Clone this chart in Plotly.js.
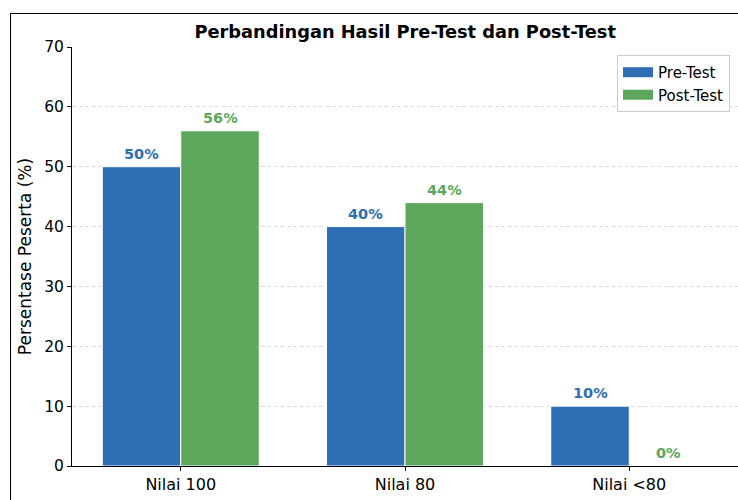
<!DOCTYPE html>
<html>
<head>
<meta charset="utf-8">
<script src="https://cdn.plot.ly/plotly-3.0.1.min.js"></script>
<style>
html,body{margin:0;padding:0;background:#fff;}
#wrap{position:relative;width:738px;height:500px;overflow:hidden;}
#chart{position:absolute;left:0;top:0;width:738px;height:500px;}
#frame{position:absolute;left:10px;top:13px;width:800px;height:600px;border-left:1px solid #000;border-top:1px solid #000;pointer-events:none;}
</style>
</head>
<body>
<div id="wrap"><div id="chart"></div><div id="frame"></div></div>
<script>
const categories = ["Nilai 100", "Nilai 80", "Nilai <80"];
const preTest = [50, 40, 10];
const postTest = [56, 44, 0];
const seriesNames = ["Pre-Test", "Post-Test"];
const yTicks = [0, 10, 20, 30, 40, 50, 60, 70];

const blue = "#2f6db5";
const green = "#5ca75c";
const barW = 0.35;
const idx = categories.map((_, i) => i);

const traces = [
  {type: "bar", name: seriesNames[0], x: idx.map(i => i - barW/2), y: preTest, width: barW, showlegend: false,
   marker: {color: blue, line: {color: "#ffffff", width: 1}}, hoverinfo: "none"},
  {type: "bar", name: seriesNames[1], x: idx.map(i => i + barW/2), y: postTest, width: barW, showlegend: false,
   marker: {color: green, line: {color: "#ffffff", width: 1}}, hoverinfo: "none"},
  // legend-only entries drawn as wide patches
  {type: "scatter", mode: "lines", name: seriesNames[0], x: [null], y: [null], line: {color: blue, width: 10}, showlegend: true},
  {type: "scatter", mode: "lines", name: seriesNames[1], x: [null], y: [null], line: {color: green, width: 10}, showlegend: true}
];

const annotations = [];
preTest.forEach((v, i) => annotations.push({x: i - barW/2, y: v, xref: "x", yref: "y", text: v + "%",
  showarrow: false, yanchor: "bottom", yshift: 3, font: {family: "DejaVu Sans", size: 14.5, color: blue, weight: "bold"}}));
postTest.forEach((v, i) => annotations.push({x: i + barW/2, y: v, xref: "x", yref: "y", text: v + "%",
  showarrow: false, yanchor: "bottom", yshift: 3, font: {family: "DejaVu Sans", size: 14.5, color: green, weight: "bold"}}));

const layout = {
  width: 738, height: 500,
  margin: {l: 72, r: 0, t: 47, b: 34, pad: 0},
  paper_bgcolor: "rgba(0,0,0,0)", plot_bgcolor: "#ffffff",
  font: {family: "DejaVu Sans", color: "#000"},
  title: {text: "<b>Perbandingan Hasil Pre-Test dan Post-Test</b>", x: 0.549, xanchor: "center", y: 0.936, yanchor: "middle",
    font: {family: "DejaVu Sans", size: 17.8, color: "#000"}},
  barmode: "overlay",
  xaxis: {range: [-0.485, 2.485], tickvals: idx, ticktext: categories, ticks: "outside", ticklen: 4, tickcolor: "#000",
    showline: true, linecolor: "#000", linewidth: 1, showgrid: false, zeroline: false,
    tickfont: {family: "DejaVu Sans", size: 16, color: "#000"}, fixedrange: true},
  yaxis: {range: [0, 70], tickvals: yTicks, ticks: "outside", ticklen: 4, tickcolor: "#000",
    showline: true, linecolor: "#000", linewidth: 1, zeroline: false,
    showgrid: true, gridcolor: "#dcdcdc", griddash: "4px,2.5px", gridwidth: 1,
    tickfont: {family: "DejaVu Sans", size: 15.5, color: "#000"},
    title: {text: "Persentase Peserta (%)", standoff: 8, font: {family: "DejaVu Sans", size: 17, color: "#000"}}, fixedrange: true},
  legend: {x: 0.988, y: 0.981, xanchor: "right", yanchor: "top", bgcolor: "rgba(255,255,255,0.9)",
    bordercolor: "#cccccc", borderwidth: 1, font: {family: "DejaVu Sans", size: 15, color: "#000"}},
  annotations: annotations,
  showlegend: true
};

Plotly.newPlot("chart", traces, layout, {displayModeBar: false, staticPlot: true});
</script>
</body>
</html>
